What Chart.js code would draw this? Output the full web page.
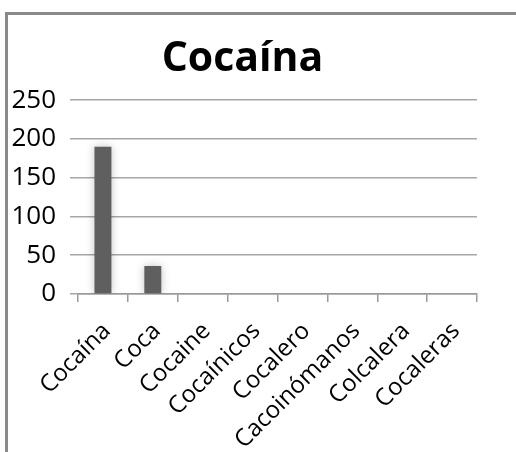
<!DOCTYPE html>
<html>
<head>
<meta charset="utf-8">
<script src="https://cdn.jsdelivr.net/npm/chart.js@4"></script>
<style>
    html, body { margin: 0; padding: 0; background: #fff; }
    .frame {
        position: absolute;
        left: 5px;
        top: 12px;
        width: 511px;
        height: 440px;
        border-left: 3px solid #8a8a8a;
        border-top: 3px solid #8a8a8a;
        box-sizing: border-box;
    }
    .chart-box {
        position: absolute;
        left: 0;
        top: 0;
        width: 516px;
        height: 452px;
    }
</style>
</head>
<body>
<div class="frame"></div>
<div class="chart-box"><canvas id="cocaina_chart"></canvas></div>
<script>
const categories = ["Cocaína", "Coca", "Cocaine", "Cocaínicos", "Cocalero", "Cacoinómanos", "Colcalera", "Cocaleras"];
const counts = [190, 36, 0, 0, 0, 0, 0, 0];
const yTicks = [0, 50, 100, 150, 200, 250];

const ctx = document.querySelector("#cocaina_chart").getContext("2d");

// soft glow around bars, like the office chart
const barShadow = {
    id: "barShadow",
    beforeDatasetsDraw(chart) {
        chart.ctx.save();
        chart.ctx.shadowColor = "rgba(0, 0, 0, 0.25)";
        chart.ctx.shadowBlur = 8;
    },
    afterDatasetsDraw(chart) {
        chart.ctx.restore();
    },
};

const chart = new Chart(ctx, {
    type: "bar",
    data: {
        labels: categories,
        datasets: [
            {
                label: "Cocaína",
                data: counts,
                backgroundColor: "#5f5f5f",
                barPercentage: 0.34,
                categoryPercentage: 1,
            },
        ],
    },
    options: {
        responsive: true,
        maintainAspectRatio: false,
        animation: false,
        layout: {
            padding: { left: 8, right: 39, top: 0, bottom: 0 },
        },
        plugins: {
            legend: { display: false },
            tooltip: { enabled: false },
            title: {
                display: true,
                text: "Cocaína",
                color: "#000",
                font: { family: "Open Sans", size: 41, weight: "bold" },
                padding: { top: 35, bottom: 16 },
            },
        },
        scales: {
            x: {
                offset: true,
                afterFit: (scale) => { scale.height = 158; },
                grid: {
                    offset: true,
                    drawOnChartArea: false,
                    drawTicks: true,
                    tickLength: 8,
                    color: "#9a9a9a",
                    lineWidth: 1.5,
                },
                border: { color: "#9a9a9a", width: 1.5 },
                ticks: {
                    minRotation: 45,
                    maxRotation: 45,
                    autoSkip: false,
                    color: "#000",
                    padding: 15,
                    labelOffset: 4,
                    font: { family: "Open Sans", size: 24 },
                },
            },
            y: {
                min: 0,
                max: 250,
                afterFit: (scale) => { scale.width = 70; },
                afterBuildTicks: (scale) => {
                    scale.ticks = yTicks.map((v) => ({ value: v }));
                },
                grid: {
                    color: "#a6a6a6",
                    lineWidth: 1.5,
                    drawTicks: true,
                    tickLength: 8,
                },
                border: { display: false },
                ticks: {
                    color: "#000",
                    padding: 14,
                    font: { family: "Open Sans", size: 26 },
                },
            },
        },
    },
    plugins: [barShadow],
});
</script>
</body>
</html>
